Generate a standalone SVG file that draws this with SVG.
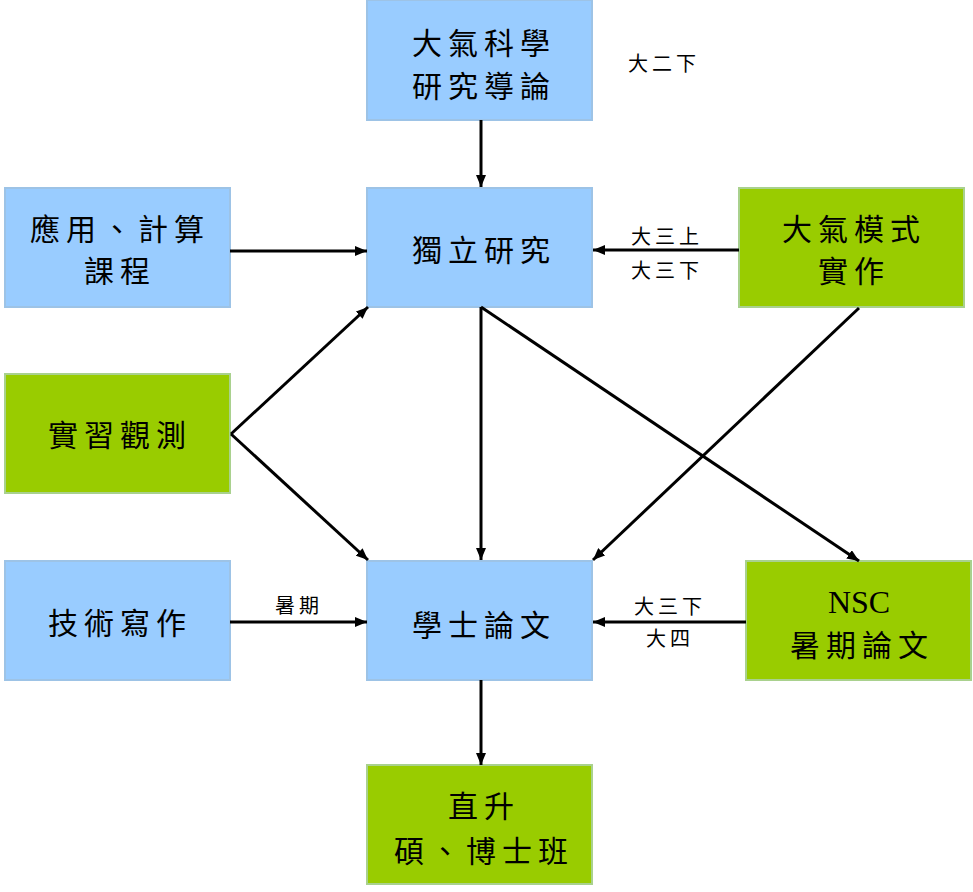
<svg xmlns="http://www.w3.org/2000/svg" width="973" height="892" viewBox="0 0 973 892">
<defs>
<marker id="ah" viewBox="0 0 12 10" refX="12" refY="5" markerWidth="12" markerHeight="10" markerUnits="userSpaceOnUse" orient="auto">
<path d="M0,0 L12,5 L0,10 Z" fill="#000"/>
</marker>
<style>
.blue{fill:#99CCFF;stroke:#9DC3E6;stroke-width:2}
.green{fill:#99CC00;stroke:#A9D18E;stroke-width:2}
.t{font-family:"Noto Sans CJK TC","Noto Sans CJK SC",sans-serif;font-size:30px;letter-spacing:6px;text-anchor:middle;fill:#000}
.l{font-family:"Noto Sans CJK TC","Noto Sans CJK SC",sans-serif;font-size:20px;letter-spacing:4px;text-anchor:middle;fill:#000}
.e{font-family:"Liberation Serif",serif;font-size:32px;text-anchor:middle;fill:#000}
.c{stroke:#000;stroke-width:3;fill:none;marker-end:url(#ah)}
</style>
</defs>
<rect width="973" height="892" fill="#fff"/>
<g id="n_intro">
<rect class="blue" x="367" y="0" width="225" height="120"/>
<text class="t" x="484" y="54">大氣科學</text>
<text class="t" x="484" y="97">研究導論</text>
</g>
<g id="n_course">
<rect class="blue" x="5" y="188" width="225" height="119"/>
<text class="t" x="120" y="240">應用、計算</text>
<text class="t" x="120" y="282">課程</text>
</g>
<g id="n_indep">
<rect class="blue" x="367" y="188" width="225" height="119"/>
<text class="t" x="484" y="261">獨立研究</text>
</g>
<g id="n_model">
<rect class="green" x="739" y="188" width="225" height="119"/>
<text class="t" x="854" y="240">大氣模式</text>
<text class="t" x="854" y="282">實作</text>
</g>
<g id="n_obs">
<rect class="green" x="5" y="374" width="225" height="119"/>
<text class="t" x="120" y="446">實習觀測</text>
</g>
<g id="n_write">
<rect class="blue" x="5" y="561" width="225" height="119"/>
<text class="t" x="120" y="634">技術寫作</text>
</g>
<g id="n_thesis">
<rect class="blue" x="367" y="561" width="225" height="119"/>
<text class="t" x="484" y="636">學士論文</text>
</g>
<g id="n_nsc">
<rect class="green" x="746" y="561" width="225" height="119"/>
<text class="e" x="859" y="613">NSC</text>
<text class="t" x="862" y="656">暑期論文</text>
</g>
<g id="n_grad">
<rect class="green" x="367" y="765" width="225" height="119"/>
<text class="t" x="484" y="817">直升</text>
<text class="t" x="484" y="862">碩、博士班</text>
</g>
<g id="connectors">
<line class="c" x1="481" y1="120" x2="481" y2="187"/>
<line class="c" x1="230" y1="251" x2="367" y2="251"/>
<line class="c" x1="739" y1="250" x2="593" y2="250"/>
<line class="c" x1="231" y1="434" x2="368" y2="307"/>
<line class="c" x1="231" y1="434" x2="368" y2="560"/>
<line class="c" x1="481" y1="307" x2="481" y2="560"/>
<line class="c" x1="481" y1="307" x2="859" y2="561"/>
<line class="c" x1="859" y1="308" x2="593" y2="560"/>
<line class="c" x1="230" y1="622" x2="367" y2="622"/>
<line class="c" x1="746" y1="622" x2="593" y2="622"/>
<line class="c" x1="481" y1="680" x2="481" y2="765"/>
</g>
<g id="labels">
<text class="l" x="664" y="71">大二下</text>
<text class="l" x="667" y="244">大三上</text>
<text class="l" x="667" y="278">大三下</text>
<text class="l" x="299" y="613">暑期</text>
<text class="l" x="670" y="614">大三下</text>
<text class="l" x="670" y="646">大四</text>
</g>
</svg>
